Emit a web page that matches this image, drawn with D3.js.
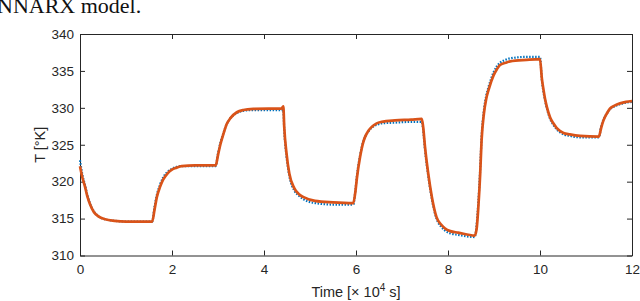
<!DOCTYPE html>
<html>
<head>
<meta charset="utf-8">
<script src="https://cdn.jsdelivr.net/npm/d3@7"></script>
<style>
  body { margin: 0; background: #fff; overflow: hidden; }
  svg { display: block; }
  .tick text { font-family: "Liberation Sans", Arial, sans-serif; font-size: 13.5px; fill: #262626; }
</style>
</head>
<body>
<div id="chart"></div>
<script>
// ---- data ----
var time = [0, 0.05, 0.11, 0.16, 0.22, 0.3, 0.4, 0.55, 0.75, 1.0, 1.57,
  1.62, 1.67, 1.74, 1.81, 1.9, 1.99, 2.1, 2.21, 2.5, 2.95,
  3.0, 3.05, 3.12, 3.19, 3.27, 3.41, 3.55, 3.77, 4.1, 4.38, 4.42,
  4.44, 4.49, 4.55, 4.66, 4.76, 4.86, 5.11, 5.5, 5.94,
  5.99, 6.02, 6.09, 6.16, 6.2, 6.27, 6.34, 6.45, 6.56, 6.85, 7.2, 7.43,
  7.46, 7.5, 7.57, 7.65, 7.75, 7.85, 7.93, 8.05, 8.22, 8.58,
  8.62, 8.66, 8.7, 8.73, 8.78, 8.83, 8.88, 8.99, 9.06, 9.13, 9.25, 9.35, 9.71, 10.0,
  10.04, 10.08, 10.11, 10.15, 10.22, 10.29, 10.36, 10.43, 10.51, 10.65, 10.87, 11.28,
  11.33, 11.38, 11.45, 11.52, 11.62, 11.74, 11.87, 12.0];

// measured temperature (blue dotted)
var measured = [322.9, 321.0, 319.5, 318.2, 317.0, 316.0, 315.3, 314.9, 314.7, 314.6, 314.6,
  316.6, 318.2, 319.6, 320.6, 321.3, 321.7, 322.0, 322.1, 322.1, 322.1,
  323.8, 325.2, 326.6, 327.8, 328.6, 329.3, 329.6, 329.7, 329.7, 329.7, 329.7,
  327.0, 323.4, 320.8, 318.8, 318.1, 317.6, 317.1, 316.9, 316.9,
  319.0, 320.8, 323.6, 325.5, 326.1, 326.8, 327.3, 327.7, 327.9, 328.0, 328.1, 328.1,
  327.0, 324.3, 320.8, 317.6, 315.0, 313.9, 313.4, 313.0, 312.8, 312.5,
  314.0, 317.3, 321.8, 326.0, 329.6, 331.6, 332.8, 334.8, 335.6, 336.1, 336.5, 336.7, 336.9, 336.9,
  333.8, 332.0, 331.0, 329.9, 328.5, 327.7, 327.1, 326.7, 326.4, 326.2, 326.0, 326.0,
  327.5, 328.4, 329.2, 329.8, 330.2, 330.5, 330.7, 330.8];

// model output (orange solid)
var model = [322.1, 320.6, 319.3, 318.0, 316.9, 315.9, 315.3, 314.9, 314.7, 314.6, 314.6,
  316.2, 317.9, 319.3, 320.3, 321.1, 321.6, 321.9, 322.1, 322.2, 322.2,
  323.6, 325.0, 326.5, 327.8, 328.6, 329.4, 329.7, 329.85, 329.9, 329.9, 330.2,
  327.4, 323.8, 321.1, 319.1, 318.3, 317.9, 317.4, 317.2, 317.1,
  318.8, 320.5, 323.4, 325.4, 326.1, 326.9, 327.4, 327.9, 328.1, 328.3, 328.4, 328.5,
  327.4, 324.7, 321.1, 317.9, 315.2, 314.2, 313.7, 313.3, 313.1, 312.7,
  313.5, 316.6, 321.1, 325.6, 329.2, 331.2, 332.4, 334.4, 335.2, 335.8, 336.1, 336.3, 336.5, 336.6,
  334.0, 332.3, 331.2, 330.1, 328.7, 327.9, 327.3, 326.9, 326.6, 326.4, 326.2, 326.1,
  327.3, 328.3, 329.2, 329.9, 330.3, 330.6, 330.8, 330.9];

var xTicks = [0, 2, 4, 6, 8, 10, 12];
var yTicks = [310, 315, 320, 325, 330, 335, 340];

// ---- chart set up ----
var svgWidth = 640;
var svgHeight = 301;
var margin = { top: 34, right: 8, bottom: 46, left: 80 };
var width = 552;
var height = 221.5;
var axisColor = "#262626";

var svg = d3.select("#chart")
  .append("svg")
  .attr("width", svgWidth)
  .attr("height", svgHeight);

// caption line above the figure (cut by the top edge, as in the source)
svg.append("text")
  .attr("x", -3)
  .attr("y", 12.5)
  .style("font-family", "'Liberation Serif', 'Times New Roman', serif")
  .style("font-size", "22px")
  .style("fill", "#111")
  .text("NNARX model.");

var g = svg.append("g")
  .attr("transform", `translate(${margin.left}, ${margin.top})`);

var x = d3.scaleLinear().domain([0, 12]).range([0, width]);
var y = d3.scaleLinear().domain([310, 340]).range([height, 0]);

// axes, ticks inside like matlab
function styleAxis(sel) {
  sel.select(".domain").attr("stroke", axisColor);
  sel.selectAll(".tick line").attr("stroke", axisColor);
}

g.append("g")
  .attr("transform", `translate(0, ${height})`)
  .call(d3.axisBottom(x).tickValues(xTicks).tickSizeInner(-5).tickSizeOuter(0).tickPadding(9))
  .call(styleAxis);

g.append("g")
  .call(d3.axisTop(x).tickValues(xTicks).tickSizeInner(-5).tickSizeOuter(0).tickFormat(""))
  .call(styleAxis);

g.append("g")
  .call(d3.axisLeft(y).tickValues(yTicks).tickSizeInner(-5).tickSizeOuter(0).tickPadding(6))
  .call(styleAxis);

g.append("g")
  .attr("transform", `translate(${width}, 0)`)
  .call(d3.axisRight(y).tickValues(yTicks).tickSizeInner(-5).tickSizeOuter(0).tickFormat(""))
  .call(styleAxis);

// lines
var line = d3.line()
  .x(d => x(d[0]))
  .y(d => y(d[1]))
  .curve(d3.curveMonotoneX);

g.append("path")
  .datum(d3.zip(time, measured))
  .attr("fill", "none")
  .attr("stroke", "#0072BD")
  .attr("stroke-width", 2.2)
  .attr("stroke-dasharray", "1.5,1.5")
  .attr("d", line);

g.append("path")
  .datum(d3.zip(time, model))
  .attr("fill", "none")
  .attr("stroke", "#D95319")
  .attr("stroke-width", 2.7)
  .attr("stroke-linejoin", "round")
  .attr("d", line);

// axis labels
var labelFont = "'Liberation Sans', Arial, sans-serif";

var xLabel = svg.append("text")
  .attr("x", margin.left + width / 2)
  .attr("y", 297)
  .attr("text-anchor", "middle")
  .style("font-family", labelFont)
  .style("font-size", "14.5px")
  .style("fill", axisColor);
xLabel.append("tspan").text("Time [\u00d7 10");
xLabel.append("tspan").attr("dy", -6).style("font-size", "10px").text("4");
xLabel.append("tspan").attr("dy", 6).text(" s]");

svg.append("text")
  .attr("transform", `translate(45, ${margin.top + height / 2}) rotate(-90)`)
  .attr("text-anchor", "middle")
  .style("font-family", labelFont)
  .style("font-size", "14.5px")
  .style("fill", axisColor)
  .text("T [\u00b0K]");
</script>
</body>
</html>
